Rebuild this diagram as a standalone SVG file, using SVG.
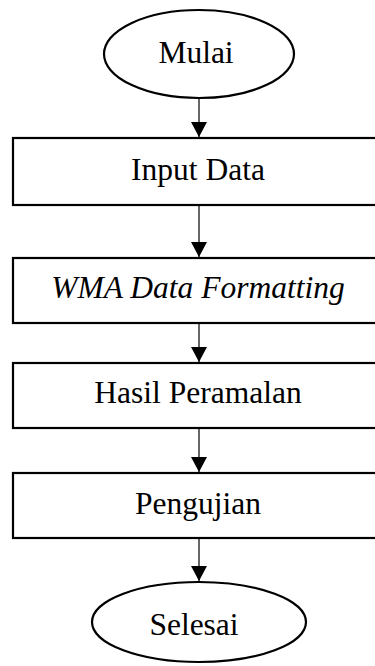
<svg xmlns="http://www.w3.org/2000/svg" width="375" height="666" viewBox="0 0 375 666">
  <style>
    .shape { fill: #ffffff; stroke: #000000; stroke-width: 2.2; }
    .label { font-family: "Liberation Serif", "Times New Roman", serif; font-size: 31.5px; fill: #000000; text-anchor: middle; }
    .em { font-style: italic; }
    .flow { stroke: #000000; stroke-width: 1.2; fill: none; marker-end: url(#head); }
  </style>
  <defs>
    <!-- solid triangular arrowhead; tip sits on the line end -->
    <marker id="head" viewBox="0 0 15 16" refX="15" refY="8" markerWidth="15" markerHeight="16" markerUnits="userSpaceOnUse" orient="auto">
      <path d="M0,0 L15,8 L0,16 Z" fill="#000000"/>
    </marker>
  </defs>
  <rect width="375" height="666" fill="#ffffff"/>

  <g id="connectors">
    <line class="flow" x1="199" y1="98" x2="199" y2="137"/>
    <line class="flow" x1="199" y1="205" x2="199" y2="257"/>
    <line class="flow" x1="199" y1="323" x2="199" y2="362"/>
    <line class="flow" x1="199" y1="428" x2="199" y2="472"/>
    <line class="flow" x1="199" y1="538" x2="199" y2="581"/>
  </g>

  <g id="mulai">
    <ellipse class="shape" cx="199" cy="54" rx="95" ry="44"/>
    <text class="label" x="196" y="63">Mulai</text>
  </g>

  <g id="input-data">
    <rect class="shape" x="13" y="138" width="372" height="67"/>
    <text class="label" x="198" y="180">Input Data</text>
  </g>

  <g id="wma-formatting">
    <rect class="shape" x="13" y="258" width="372" height="65"/>
    <text class="label em" x="198" y="298">WMA Data Formatting</text>
  </g>

  <g id="hasil-peramalan">
    <rect class="shape" x="13" y="363" width="372" height="65"/>
    <text class="label" x="198" y="403">Hasil Peramalan</text>
  </g>

  <g id="pengujian">
    <rect class="shape" x="13" y="473" width="372" height="65"/>
    <text class="label" x="198" y="514">Pengujian</text>
  </g>

  <g id="selesai">
    <ellipse class="shape" cx="199" cy="622" rx="107" ry="40"/>
    <text class="label" x="194" y="635">Selesai</text>
  </g>
</svg>
